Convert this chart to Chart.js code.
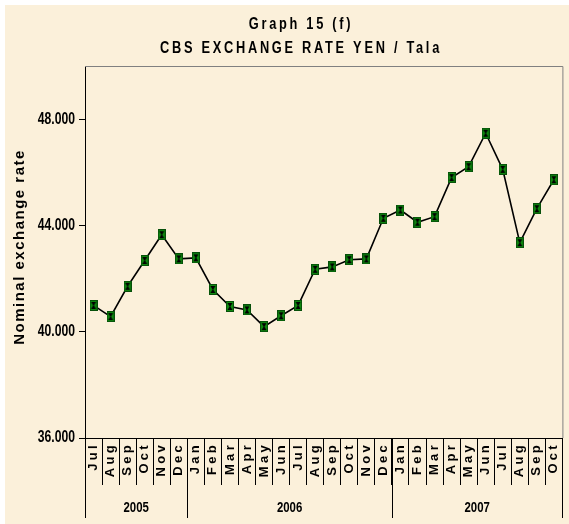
<!DOCTYPE html>
<html lang="en">
<head>
    <meta charset="UTF-8" />
    <title>CBS Exchange Rate YEN / Tala</title>
    <script src="https://cdn.jsdelivr.net/npm/chart.js"></script>
    <style>
        html, body { margin: 0; padding: 0; background: #ffffff; }
        #chart-box { width: 569px; height: 524px; position: relative; }
    </style>
</head>
<body>
    <div id="chart-box">
        <canvas id="rateChart"></canvas>
    </div>

    <script>
        // Monthly data, Jul 2005 - Oct 2007
        const months = ['Jul', 'Aug', 'Sep', 'Oct', 'Nov', 'Dec',
            'Jan', 'Feb', 'Mar', 'Apr', 'May', 'Jun', 'Jul', 'Aug', 'Sep', 'Oct', 'Nov', 'Dec',
            'Jan', 'Feb', 'Mar', 'Apr', 'May', 'Jun', 'Jul', 'Aug', 'Sep', 'Oct'];
        const years = ['2005', '2006', '2007'];
        const monthsPerYear = [6, 12, 10];
        const rates = [40.99, 40.57, 41.71, 42.68, 43.65, 42.74,
            42.78, 41.59, 40.95, 40.82, 40.19, 40.60, 40.99, 42.35, 42.44, 42.71, 42.74, 44.27,
            44.58, 44.12, 44.33, 45.80, 46.21, 47.47, 46.11, 43.35, 44.63, 45.72];
        const yTicks = [36, 40, 44, 48];
        const yMin = 36;
        const yMax = 50;

        const chartTitle = ['Graph 15 (f)', 'CBS EXCHANGE RATE YEN / Tala'];
        const yTitle = 'Nominal exchange rate';

        const FONT = "'Liberation Sans', Arial, sans-serif";

        // green square marker with black hourglass
        function makeMarker() {
            const c = document.createElement('canvas');
            c.width = 8; c.height = 11;
            const g = c.getContext('2d');
            g.fillStyle = '#0f8a0f';
            g.fillRect(0, 0, 8, 11);
            g.strokeStyle = '#06500a';
            g.lineWidth = 1;
            g.strokeRect(0.5, 0.5, 7, 10);
            g.fillStyle = '#000000';
            g.beginPath();
            g.moveTo(1.5, 2); g.lineTo(6.5, 2); g.lineTo(4.4, 5.5);
            g.lineTo(6.5, 9); g.lineTo(1.5, 9); g.lineTo(3.6, 5.5);
            g.closePath();
            g.fill();
            return c;
        }

        function drawText(ctx, text, x, y, font, sx, spacing, align) {
            ctx.save();
            ctx.font = font;
            ctx.letterSpacing = spacing + 'px';
            ctx.fillStyle = '#000000';
            ctx.textBaseline = 'middle';
            ctx.textAlign = align;
            ctx.translate(x, y);
            ctx.scale(sx, 1);
            ctx.fillText(text, 0, 0);
            ctx.restore();
        }

        const parchment = {
            id: 'parchment',
            beforeDraw(chart) {
                const ctx = chart.ctx;
                ctx.save();
                ctx.fillStyle = '#ffffff';
                ctx.fillRect(0, 0, chart.width, chart.height);
                ctx.fillStyle = '#fbf0da';
                ctx.fillRect(5, 5, chart.width - 5, chart.height - 5);
                ctx.restore();
                ctx.letterSpacing = '0px';
            },
            afterDatasetsDraw(chart) {
                // month tick labels are drawn after this (ticks.z = 1)
                chart.ctx.letterSpacing = '3.3px';
            },
            afterDraw(chart) {
                const ctx = chart.ctx;
                ctx.letterSpacing = '0px';
                const area = chart.chartArea;
                const xs = chart.scales.x;
                const ys = chart.scales.y;

                // top and right frame
                ctx.save();
                ctx.strokeStyle = '#808080';
                ctx.lineWidth = 1;
                ctx.beginPath();
                ctx.moveTo(area.left, area.top + 0.5);
                ctx.lineTo(area.right + 0.5, area.top + 0.5);
                ctx.lineTo(area.right + 0.5, area.bottom);
                ctx.stroke();
                ctx.restore();

                // titles
                drawText(ctx, chartTitle[0], 301, 25, 'bold 16px ' + FONT, 0.8, 3.4, 'center');
                drawText(ctx, chartTitle[1], 301, 49, 'bold 16px ' + FONT, 0.8, 3.4, 'center');

                ctx.save();
                ctx.translate(20, 247);
                ctx.rotate(-Math.PI / 2);
                drawText(ctx, yTitle, 0, 0, 'bold 15px ' + FONT, 1, 1.5, 'center');
                ctx.restore();

                // y tick labels
                ys.ticks.forEach(t => {
                    drawText(ctx, t.value.toFixed(3), 75, ys.getPixelForValue(t.value),
                        'bold 16px ' + FONT, 0.76, 0, 'right');
                });

                // year groups
                let start = 0;
                ctx.save();
                ctx.strokeStyle = '#000000';
                ctx.lineWidth = 1;
                years.forEach((yr, i) => {
                    const end = start + monthsPerYear[i];
                    const x0 = xs.getPixelForValue(start - 0.5);
                    const x1 = xs.getPixelForValue(end - 0.5);
                    ctx.beginPath();
                    ctx.moveTo(Math.round(x0) + 0.5, area.bottom);
                    ctx.lineTo(Math.round(x0) + 0.5, 518);
                    ctx.moveTo(Math.round(x1) + 0.5, area.bottom);
                    ctx.lineTo(Math.round(x1) + 0.5, 518);
                    ctx.stroke();
                    drawText(ctx, yr, (x0 + x1) / 2, 508, 'bold 15px ' + FONT, 0.76, 0, 'center');
                    start = end;
                });
                ctx.restore();
            }
        };

        new Chart(document.getElementById('rateChart'), {
            type: 'line',
            data: {
                labels: months,
                datasets: [{
                    label: 'YEN / Tala',
                    data: rates,
                    borderColor: '#000000',
                    borderWidth: 1.6,
                    tension: 0,
                    pointStyle: makeMarker(),
                    pointRadius: 5,
                    pointHoverRadius: 5
                }]
            },
            options: {
                responsive: true,
                maintainAspectRatio: false,
                animation: false,
                events: [],
                layout: { padding: { top: 66, left: 5, right: 3, bottom: 0 } },
                plugins: {
                    legend: { display: false },
                    title: { display: false },
                    tooltip: { enabled: false }
                },
                scales: {
                    x: {
                        offset: true,
                        afterFit: scale => { scale.height = 86; },
                        border: { color: '#000000', width: 1 },
                        grid: {
                            offset: true,
                            drawOnChartArea: false,
                            color: '#000000',
                            tickLength: 47
                        },
                        ticks: {
                            z: 1,
                            autoSkip: false,
                            minRotation: 90,
                            maxRotation: 90,
                            padding: -43,
                            color: '#000000',
                            font: { family: FONT, size: 13, weight: 'bold' }
                        }
                    },
                    y: {
                        min: yMin,
                        max: yMax,
                        afterFit: scale => { scale.width = 80; },
                        afterBuildTicks: scale => { scale.ticks = yTicks.map(v => ({ value: v })); },
                        border: { color: '#000000', width: 1 },
                        grid: {
                            drawOnChartArea: false,
                            color: '#000000',
                            tickLength: 6
                        },
                        ticks: { display: false }
                    }
                }
            },
            plugins: [parchment]
        });
    </script>
</body>
</html>
